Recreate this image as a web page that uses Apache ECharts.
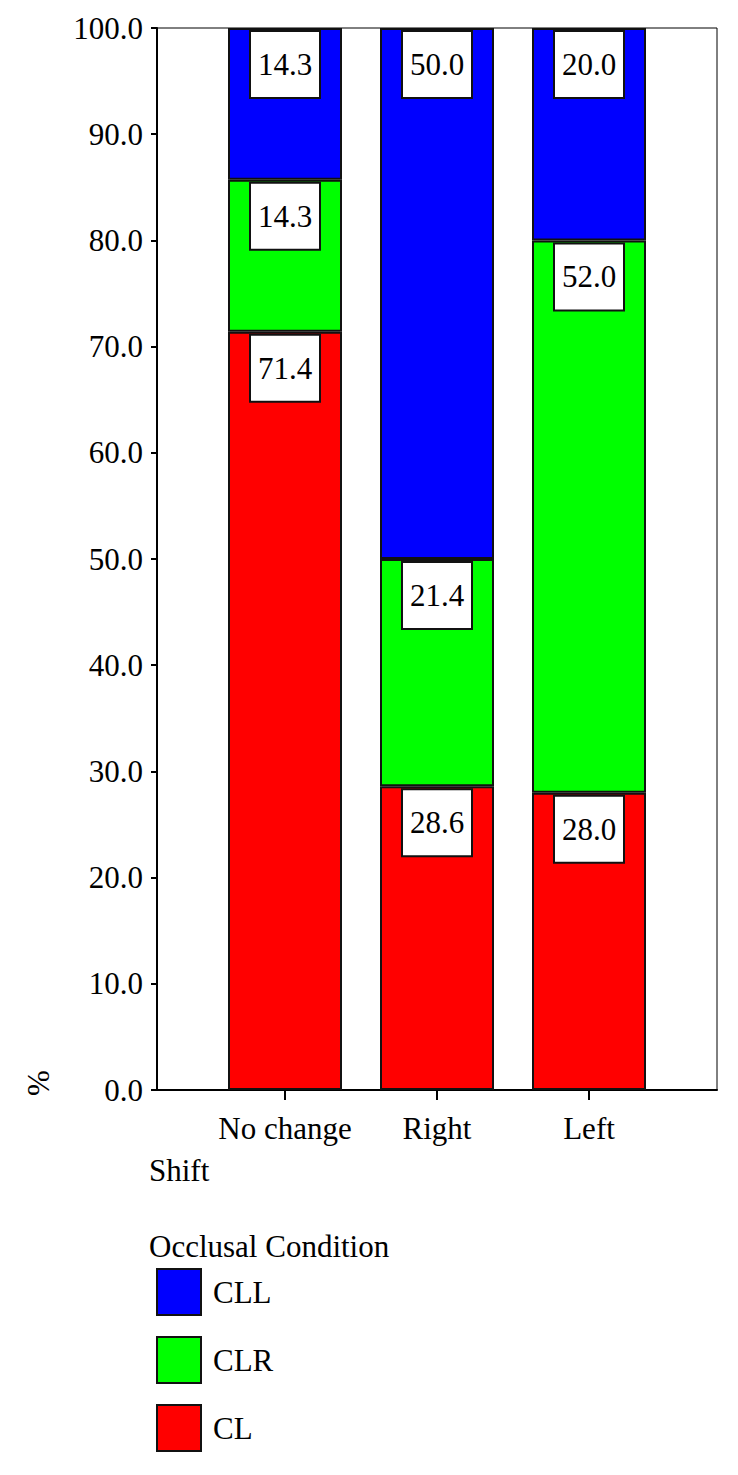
<!DOCTYPE html>
<html>
<head>
<meta charset="utf-8">
<script src="https://cdn.jsdelivr.net/npm/echarts@6/dist/echarts.min.js"></script>
<style>
html,body{margin:0;padding:0;background:#fff;}
#chart{width:738px;height:1475px;}
</style>
</head>
<body>
<div id="chart"></div>
<script>
const categories = ['No change', 'Right', 'Left'];
const seriesNames = ['CL', 'CLR', 'CLL'];
const clValues = [71.4, 28.6, 28.0];
const clrValues = [14.3, 21.4, 52.0];
const cllValues = [14.3, 50.0, 20.0];
const yTicks = [0, 10, 20, 30, 40, 50, 60, 70, 80, 90, 100];
const legendOrder = ['CLL', 'CLR', 'CL'];
const colors = {CL: '#ff0000', CLR: '#00ff00', CLL: '#0000ff'};
const FONT = '"Liberation Serif", "Times New Roman", serif';
const FS = 31;

const valuesByName = {CL: clValues, CLR: clrValues, CLL: cllValues};

const chart = echarts.init(document.getElementById('chart'), null, {renderer: 'svg'});

const series = seriesNames.map(name => ({
  name: name,
  type: 'bar',
  stack: 'total',
  xAxisIndex: 1,
  yAxisIndex: 1,
  barWidth: 114,
  data: valuesByName[name],
  itemStyle: {color: colors[name], borderColor: '#111', borderWidth: 2},
  label: {
    show: true,
    position: 'insideTop',
    distance: 4,
    formatter: p => p.value.toFixed(1),
    color: '#000',
    fontFamily: FONT,
    fontSize: FS,
    backgroundColor: '#fff',
    borderColor: '#111',
    borderWidth: 2,
    width: 60,
    align: 'center',
    padding: [17, 4, 17, 4]
  },
  emphasis: {disabled: true}
}));

const option = {
  animation: false,
  backgroundColor: '#fff',
  grid: [
    {left: 157, right: 21, top: 28, bottom: 385, show: true, borderColor: '#000', borderWidth: 1},
    {left: 209, width: 456, top: 28, bottom: 385}
  ],
  xAxis: [
    {
      type: 'value', gridIndex: 0, min: 0, max: 1,
      splitLine: {show: false},
      axisLine: {show: true, onZero: false, lineStyle: {color: '#000', width: 2}},
      axisTick: {show: false},
      axisLabel: {show: false}
    },
    {
      type: 'category', gridIndex: 1, data: categories,
      axisLine: {show: false},
      axisTick: {show: true, alignWithLabel: true, length: 10, lineStyle: {color: '#000', width: 2}},
      axisLabel: {interval: 0, color: '#000', fontFamily: FONT, fontSize: FS, margin: 23}
    }
  ],
  yAxis: [
    {
      type: 'value', gridIndex: 0, min: 0, max: 100, interval: 10,
      splitLine: {show: false},
      axisLine: {show: true, onZero: false, lineStyle: {color: '#000', width: 2}},
      axisTick: {show: true, length: 6, lineStyle: {color: '#000', width: 2}},
      axisLabel: {
        formatter: v => yTicks.includes(v) ? v.toFixed(1) : '',
        color: '#000', fontFamily: FONT, fontSize: FS, margin: 14
      }
    },
    {
      type: 'value', gridIndex: 1, min: 0, max: 100, interval: 10, show: false
    }
  ],
  legend: {
    data: legendOrder,
    orient: 'vertical',
    left: 156,
    top: 1268,
    padding: 0,
    itemWidth: 44,
    itemHeight: 46,
    itemGap: 20,
    icon: 'rect',
    selectedMode: false,
    itemStyle: {borderColor: '#111', borderWidth: 2},
    textStyle: {color: '#000', fontFamily: FONT, fontSize: FS, padding: [0, 0, 0, 7]}
  },
  title: [
    {text: 'Shift', left: 149, top: 1155, textStyle: {color: '#000', fontFamily: FONT, fontSize: FS, fontWeight: 'normal'}, padding: 0},
    {text: 'Occlusal Condition', left: 149, top: 1231, textStyle: {color: '#000', fontFamily: FONT, fontSize: FS, fontWeight: 'normal'}, padding: 0}
  ],
  graphic: [
    {type: 'text', x: 38, y: 1083, rotation: Math.PI / 2, style: {text: '%', fill: '#000', font: FS + 'px ' + FONT, align: 'center', verticalAlign: 'middle'}}
  ],
  series: series
};
chart.setOption(option);
</script>
</body>
</html>
